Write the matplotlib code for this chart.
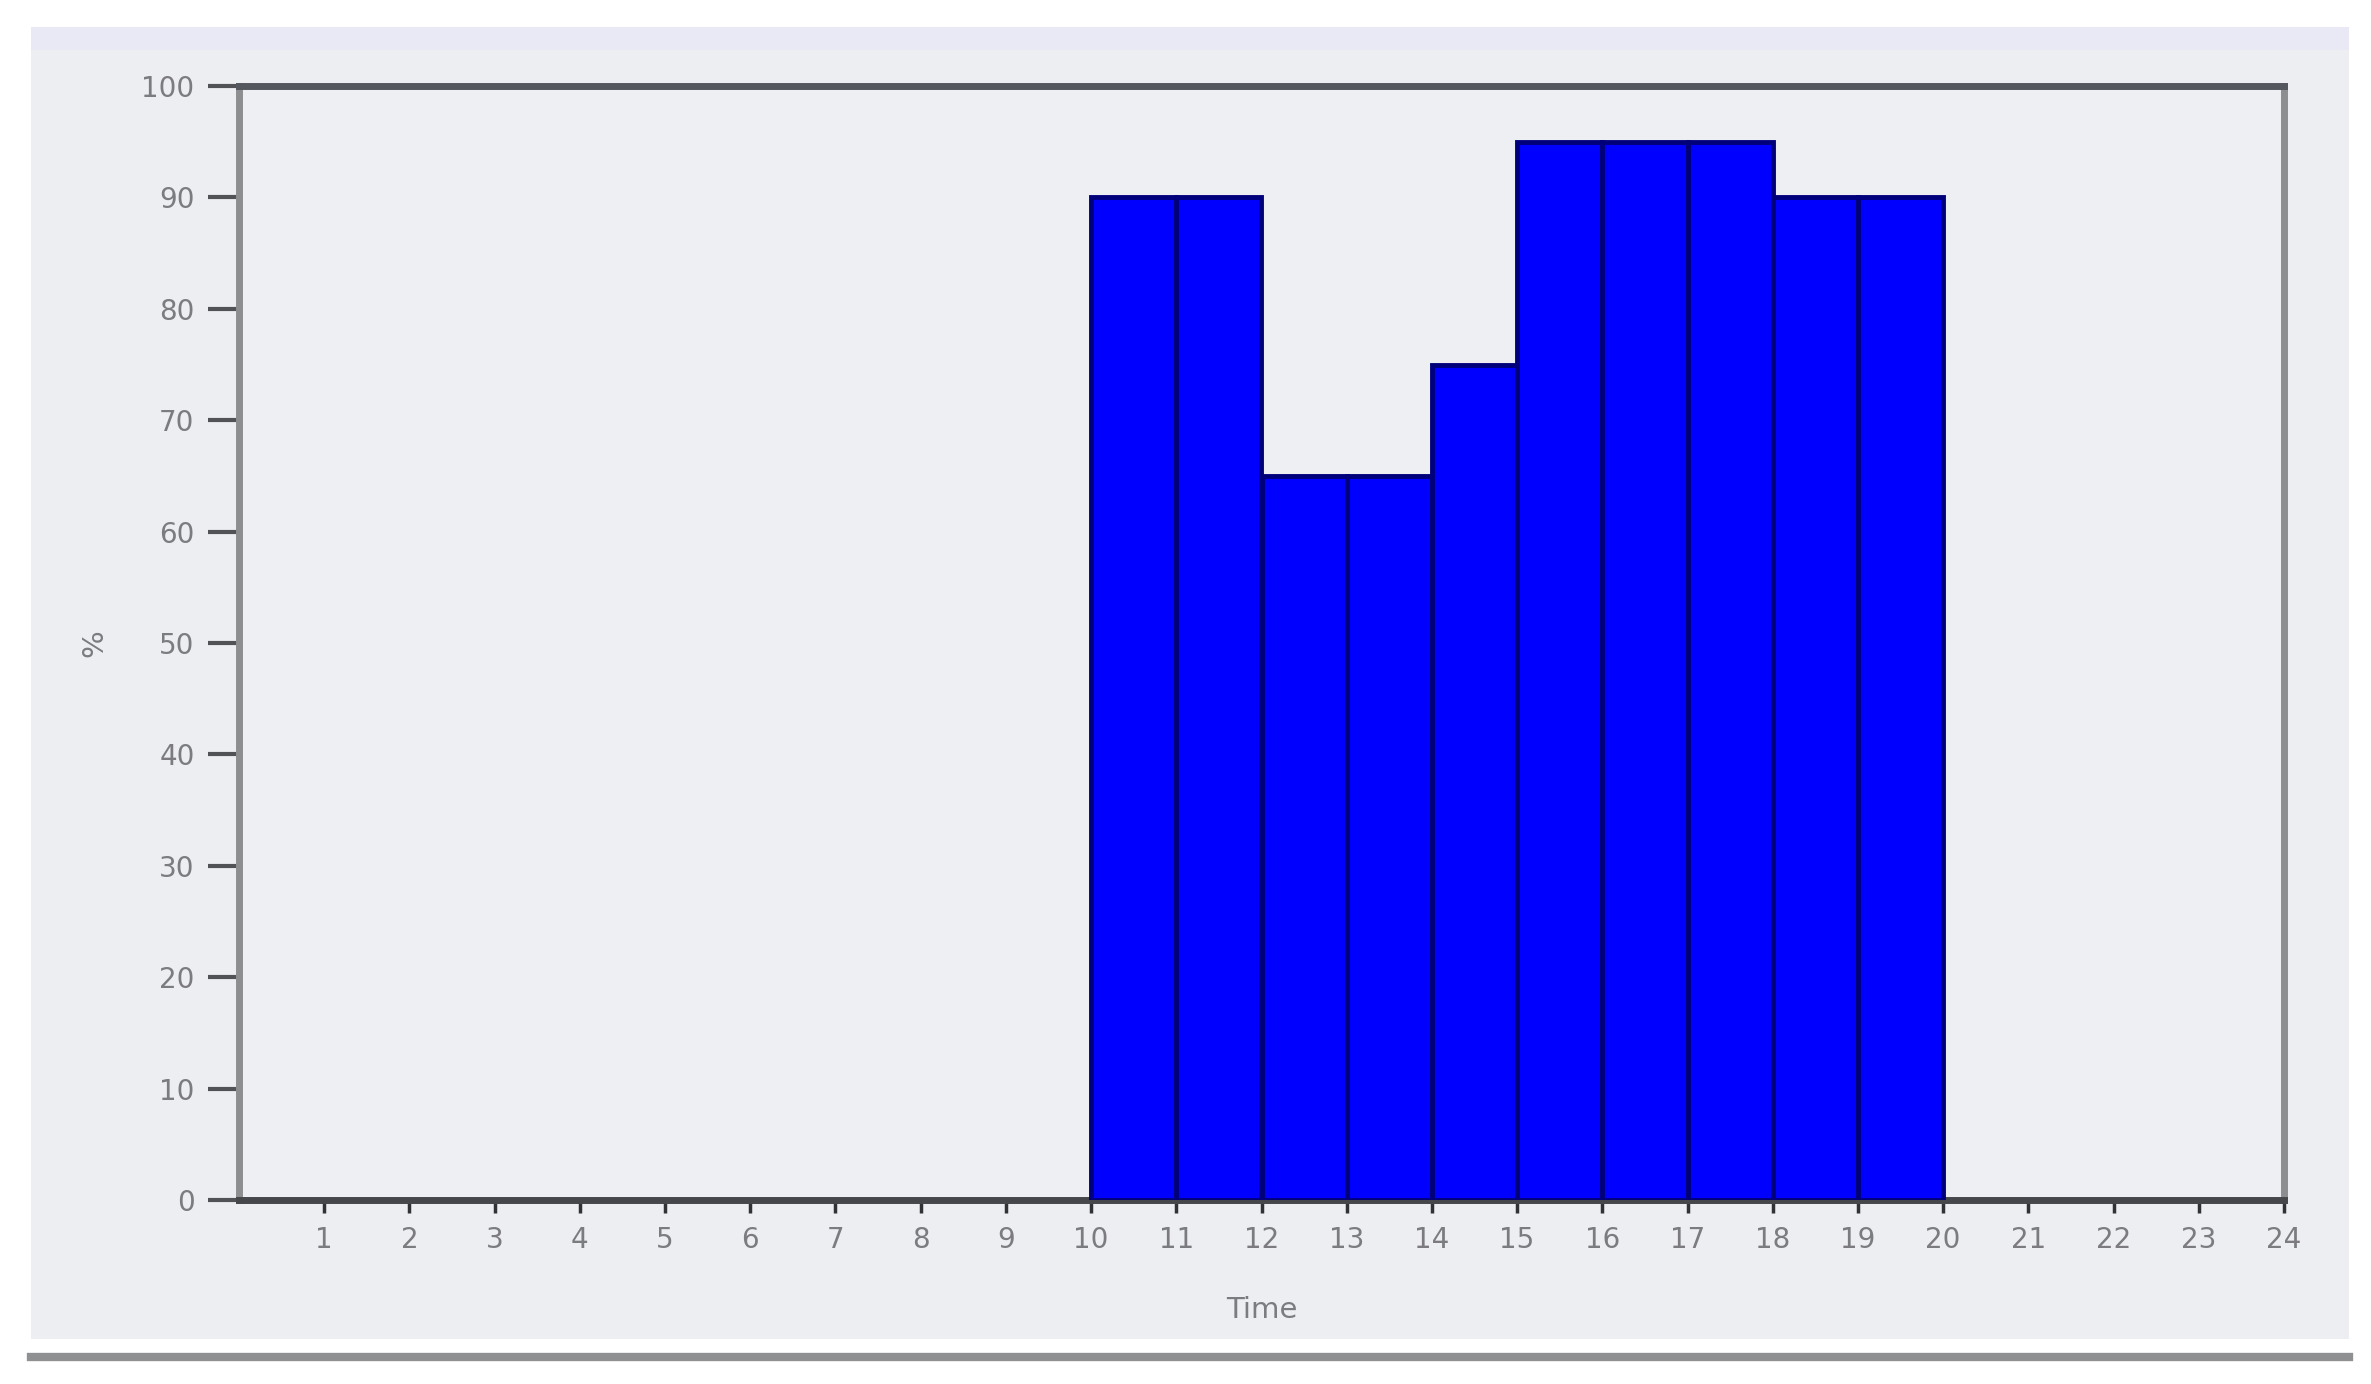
import matplotlib.pyplot as plt
from matplotlib.patches import Rectangle
from matplotlib.lines import Line2D

# Data
hours = [10, 11, 12, 13, 14, 15, 16, 17, 18, 19]
percent = [90, 90, 65, 65, 75, 95, 95, 95, 90, 90]
x_ticks = list(range(1, 25))
y_ticks = list(range(0, 101, 10))

W, H = 2371, 1384
fig = plt.figure(figsize=(W / 100, H / 100), dpi=100)
fig.patch.set_facecolor('white')

# Background panel and bottom rule (kept behind the axes)
fig.patches.append(Rectangle((31 / W, 1 - 1339 / H), (2349 - 31) / W, (1339 - 27) / H,
                             transform=fig.transFigure, facecolor='#eceef2', edgecolor='none', zorder=-2))
fig.patches.append(Rectangle((31 / W, 1 - 50 / H), (2349 - 31) / W, 23 / H,
                             transform=fig.transFigure, facecolor='#e9e9f6', edgecolor='none', zorder=-1))
fig.lines.append(Line2D([31 / W, 2349 / W], [1 - 1357 / H, 1 - 1357 / H],
                        transform=fig.transFigure, color='#8f9091', linewidth=6, zorder=-1))

ax = fig.add_axes([239 / W, 1 - 1200 / H, (2284 - 239) / W, (1200 - 86) / H])
ax.set_zorder(1)
ax.set_facecolor('#eeeff3')

ax.bar(hours, percent, width=1, align='edge', color='#0000ff',
       edgecolor='#00007a', linewidth=3.5, zorder=3)

ax.set_xlim(0, 24)
ax.set_ylim(0, 100)
ax.set_xticks(x_ticks)
ax.set_yticks(y_ticks)

ax.tick_params(axis='x', length=9, width=2.5, color='#303236', pad=10,
               labelsize=20, labelcolor='#7c7c80')
ax.tick_params(axis='y', length=22, width=3, color='#505256', pad=10,
               labelsize=20, labelcolor='#7c7c80')

ax.spines['top'].set_color('#55575e')
ax.spines['bottom'].set_color('#45474b')
ax.spines['left'].set_color('#8c8e90')
ax.spines['right'].set_color('#8c8e90')
for s in ax.spines.values():
    s.set_linewidth(5)

ax.set_xlabel('Time', fontsize=21, color='#7c7c80', labelpad=30)
ax.set_ylabel('%', fontsize=21, color='#7c7c80', labelpad=24)

fig.savefig('out.png', dpi=100)
